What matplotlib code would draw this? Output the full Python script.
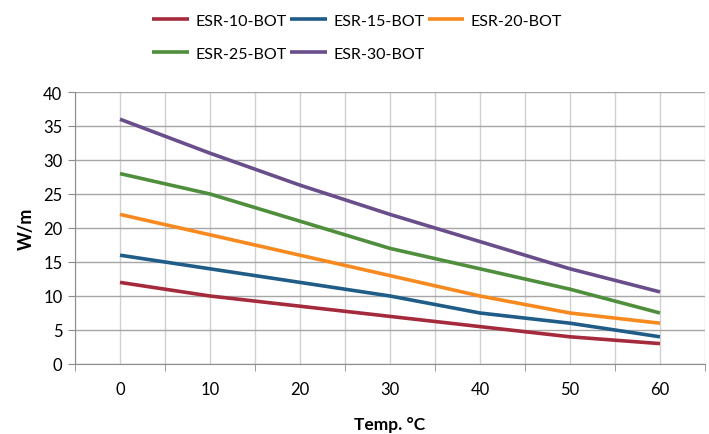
import matplotlib.pyplot as plt
import numpy as np

plt.rcParams['font.family'] = ['Lato', 'DejaVu Sans']

temps = [0, 10, 20, 30, 40, 50, 60]
esr10 = [12, 10, 8.5, 7, 5.5, 4, 3]
esr15 = [16, 14, 12, 10, 7.5, 6, 4]
esr20 = [22, 19, 16, 13, 10, 7.5, 6]
esr25 = [28, 25, 21, 17, 14, 11, 7.5]
esr30 = [36, 31, 26.3, 22, 18, 14, 10.6]

names = ['ESR-10-BOT', 'ESR-15-BOT', 'ESR-20-BOT', 'ESR-25-BOT', 'ESR-30-BOT']
colors = ['#A52A3C', '#1F5C87', '#F7891E', '#4F8E3C', '#6A4E8B']


def main():
    fig = plt.figure(figsize=(7.09, 4.35), dpi=100)
    ax = fig.add_axes([75 / 709, 1 - 365 / 435, 630 / 709, 272 / 435])

    handles = []
    for y, name, c in zip([esr10, esr15, esr20, esr25, esr30], names, colors):
        h, = ax.plot(temps, y, color=c, lw=2.6, label=name, solid_capstyle='butt')
        handles.append(h)

    ax.set_xlim(-5, 65)
    ax.set_ylim(0, 40)
    ax.set_yticks(np.arange(0, 41, 5))
    ax.set_xticks(temps)
    ax.set_xticks(np.arange(-5, 66, 10), minor=True)

    ax.grid(axis='y', color='#A6A6A6', lw=1)
    ax.grid(axis='x', which='both', color='#D0D0D0', lw=1)
    ax.set_axisbelow(True)

    for s in ['top', 'right']:
        ax.spines[s].set_visible(False)
    for s in ['left', 'bottom']:
        ax.spines[s].set_color('#8C8C8C')

    ax.tick_params(axis='y', length=5, color='#8C8C8C', labelsize=12, pad=4)
    ax.tick_params(axis='x', which='major', length=0, labelsize=12, pad=12)
    ax.tick_params(axis='x', which='minor', length=5, color='#8C8C8C')

    ax.set_xlabel('Temp. °C', fontsize=12.5, fontweight='bold', labelpad=14)
    ax.set_ylabel('W/m', fontsize=13, fontweight='bold', labelpad=6)

    order = [0, 3, 1, 4, 2]
    fig.legend([handles[i] for i in order], [names[i] for i in order],
               ncol=3, loc='upper left', bbox_to_anchor=(138 / 709, 1.0),
               frameon=False, fontsize=11.5, handlelength=2.3,
               columnspacing=0.2, handletextpad=0.4, labelspacing=1.2)

    fig.savefig('out.png', dpi=100)


if __name__ == '__main__':
    main()
